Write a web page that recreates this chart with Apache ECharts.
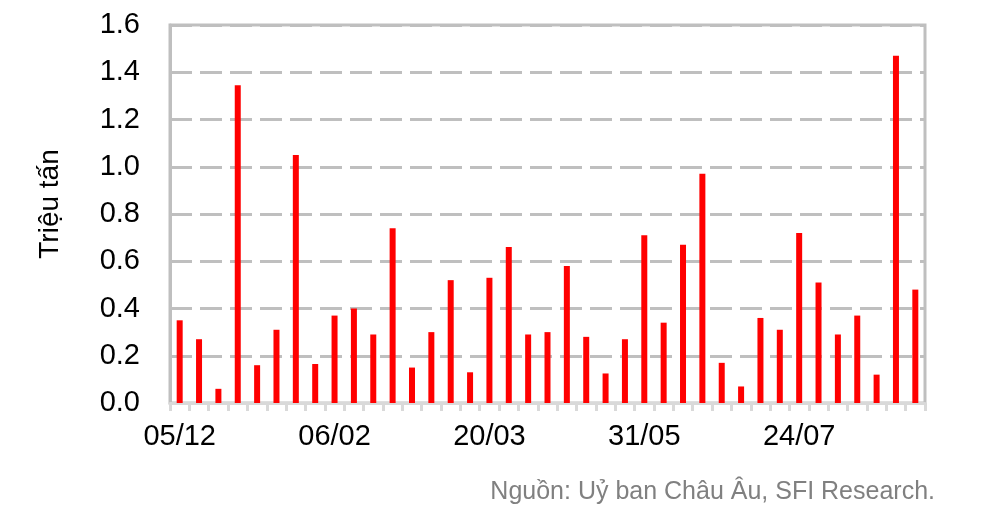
<!DOCTYPE html>
<html>
<head>
<meta charset="utf-8">
<script src="https://cdn.jsdelivr.net/npm/echarts@6/dist/echarts.min.js"></script>
<style>
html,body{margin:0;padding:0;background:#fff;}
#c{width:990px;height:516px;}
</style>
</head>
<body>
<div id="c"></div>
<script>
// Weekly observations (39 weeks)
const categories = Array.from({length: 39}, (_, i) => 'W' + (i + 1));
const values = [0.35, 0.27, 0.06, 1.345, 0.16, 0.31, 1.05, 0.165, 0.37, 0.40,
  0.29, 0.74, 0.15, 0.30, 0.52, 0.13, 0.53, 0.66, 0.29, 0.30,
  0.58, 0.28, 0.125, 0.27, 0.71, 0.34, 0.67, 0.97, 0.17, 0.07,
  0.36, 0.31, 0.72, 0.51, 0.29, 0.37, 0.12, 1.47, 0.48];
const tickLabels = {0: '05/12', 8: '06/02', 16: '20/03', 24: '31/05', 32: '24/07'};
const yTitle = 'Triệu tấn';
const sourceText = 'Nguồn: Uỷ ban Châu Âu, SFI Research.';

const chart = echarts.init(document.getElementById('c'));
const FONT = '"Liberation Sans", Arial, sans-serif';
chart.setOption({
  animation: false,
  textStyle: {fontFamily: FONT},
  grid: {left: 170, right: 65, top: 25, bottom: 113, show: true,
    borderColor: '#bfbfbf', borderWidth: 3, backgroundColor: 'transparent'},
  xAxis: {
    type: 'category',
    data: categories,
    boundaryGap: true,
    axisLine: {show: true, lineStyle: {color: '#d9d9d9', width: 3}},
    axisTick: {show: true, interval: 0, length: 8, lineStyle: {color: '#d9d9d9', width: 3}},
    axisLabel: {
      interval: 0, margin: 19, color: '#000', fontSize: 29, fontFamily: FONT,
      formatter: (v, i) => tickLabels[i] || ''
    },
    splitLine: {show: false}
  },
  yAxis: {
    type: 'value',
    min: 0, max: 1.6, interval: 0.2,
    axisLine: {show: true, lineStyle: {color: '#bfbfbf', width: 3}},
    axisTick: {show: false},
    axisLabel: {margin: 30, color: '#000', fontSize: 29, fontFamily: FONT,
      formatter: v => v.toFixed(1)},
    splitLine: {show: true, lineStyle: {color: '#bfbfbf', width: 3, type: [22, 8]}}
  },
  series: [{
    type: 'bar',
    data: values,
    barWidth: 6,
    itemStyle: {color: '#ff0000'}
  }],
  graphic: [
    {type: 'text', x: 50, y: 204, rotation: Math.PI / 2,
      style: {text: yTitle, fontSize: 28, fontFamily: FONT, fill: '#000',
        align: 'center', verticalAlign: 'middle'}},
    {type: 'text', right: 55, top: 480,
      style: {text: sourceText, fontSize: 25, fontFamily: FONT, fill: '#808080'}}
  ]
});
</script>
</body>
</html>
